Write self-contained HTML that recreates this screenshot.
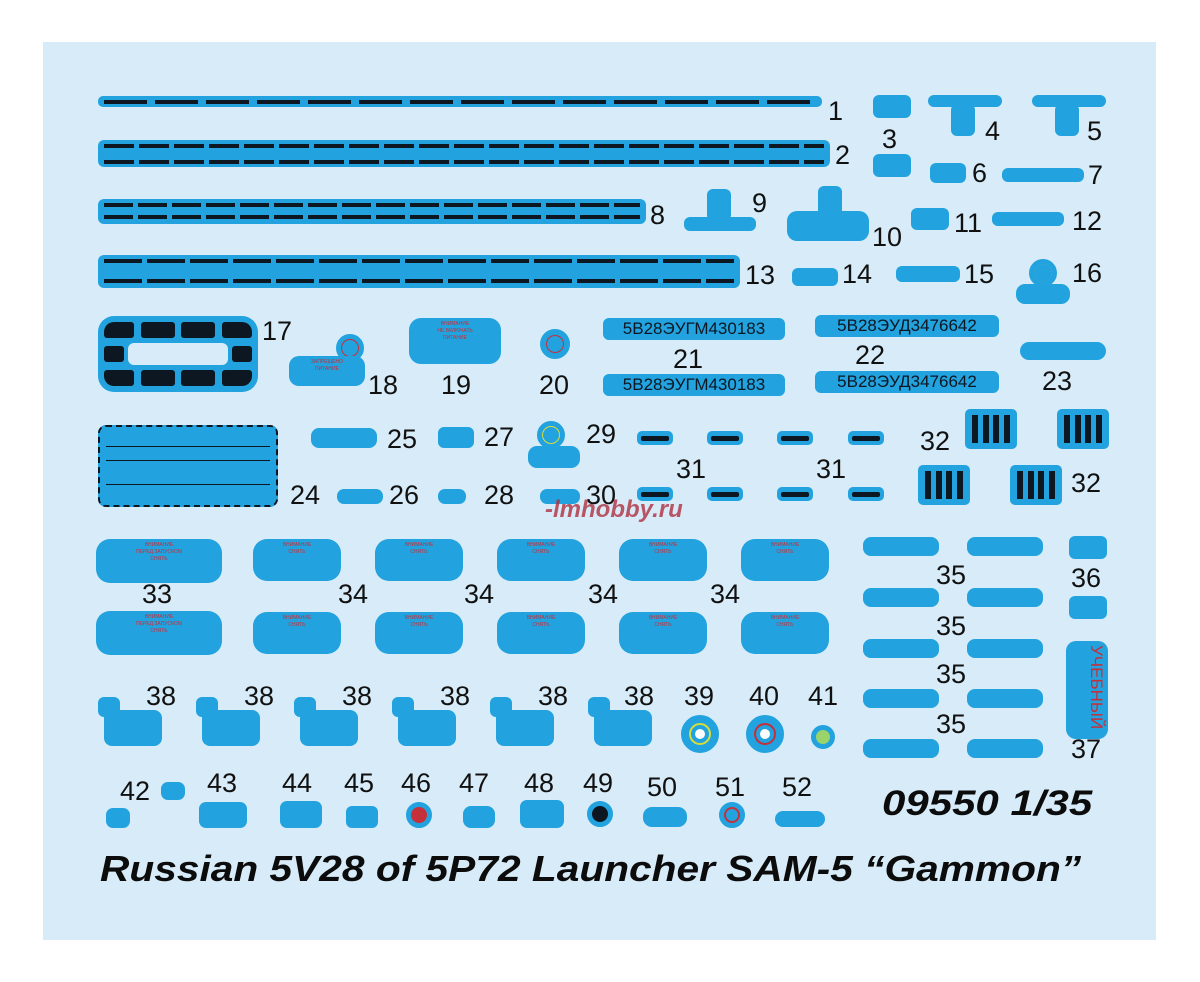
<!DOCTYPE html>
<html><head><meta charset="utf-8"><style>
body{margin:0;width:1200px;height:982px;background:#fff;position:relative;overflow:hidden;font-family:"Liberation Sans",sans-serif}
#bg{position:absolute;left:43px;top:42px;width:1113px;height:898px;background:#d7ecf8}
.d{position:absolute;background:#22a2de;border-radius:6px;box-sizing:border-box}
.n{position:absolute;font-size:27px;color:#111;line-height:1}
.dash{position:absolute;height:4px;background:repeating-linear-gradient(90deg,#0c1722 0 43px,transparent 43px 51px)}
.t{font-size:5px;color:#c5303a;text-align:center;line-height:7px;padding-top:3px;font-family:"Liberation Sans","Noto Sans CJK SC",sans-serif}
.c{position:absolute;border-radius:50%;background:#22a2de;box-sizing:border-box}
.g{position:absolute;background:#22a2de;border-radius:5px;box-sizing:border-box;padding:6px 7px;display:flex;justify-content:space-between}
.g i{display:block;width:6px;height:100%;background:#0c1722}
.blk{position:absolute;background:#0c1722;border-radius:3px}
.sm{position:absolute;height:14px;width:36px;background:#22a2de;border-radius:5px;box-sizing:border-box;padding:5px 4px}
.sm:after{content:"";display:block;height:5px;background:#0c1722;border-radius:2px}
</style></head><body>
<div id="bg"></div>
<div class="d" style="left:98px;top:96px;width:724px;height:11px;border-radius:5px"></div>
<div class="dash" style="left:104px;top:100px;width:712px"></div>
<div class="n" style="left:828px;top:98px">1</div>
<div class="d" style="left:98px;top:140px;width:732px;height:27px"></div>
<div class="dash" style="left:104px;top:144px;width:720px;background:repeating-linear-gradient(90deg,#0c1722 0 30px,transparent 30px 35px)"></div>
<div class="dash" style="left:104px;top:160px;width:720px;background:repeating-linear-gradient(90deg,#0c1722 0 30px,transparent 30px 35px)"></div>
<div class="n" style="left:835px;top:142px">2</div>
<div class="d" style="left:98px;top:199px;width:548px;height:25px"></div>
<div class="dash" style="left:104px;top:203px;width:536px;background:repeating-linear-gradient(90deg,#0c1722 0 29px,transparent 29px 34px)"></div>
<div class="dash" style="left:104px;top:215px;width:536px;background:repeating-linear-gradient(90deg,#0c1722 0 29px,transparent 29px 34px)"></div>
<div class="n" style="left:650px;top:202px">8</div>
<div class="d" style="left:98px;top:255px;width:642px;height:33px"></div>
<div class="dash" style="left:104px;top:259px;width:630px;background:repeating-linear-gradient(90deg,#0c1722 0 38px,transparent 38px 43px)"></div>
<div class="dash" style="left:104px;top:279px;width:630px;background:repeating-linear-gradient(90deg,#0c1722 0 38px,transparent 38px 43px)"></div>
<div class="n" style="left:745px;top:262px">13</div>
<div class="d" style="left:873px;top:95px;width:38px;height:23px"></div>
<div class="d" style="left:873px;top:154px;width:38px;height:23px"></div>
<div class="n" style="left:882px;top:126px">3</div>
<div class="d" style="left:928px;top:95px;width:74px;height:12px"></div>
<div class="d" style="left:951px;top:104px;width:24px;height:32px"></div>
<div class="n" style="left:985px;top:118px">4</div>
<div class="d" style="left:1032px;top:95px;width:74px;height:12px"></div>
<div class="d" style="left:1055px;top:104px;width:24px;height:32px"></div>
<div class="n" style="left:1087px;top:118px">5</div>
<div class="d" style="left:930px;top:163px;width:36px;height:20px"></div>
<div class="n" style="left:972px;top:160px">6</div>
<div class="d" style="left:1002px;top:168px;width:82px;height:14px"></div>
<div class="n" style="left:1088px;top:162px">7</div>
<div class="d" style="left:707px;top:189px;width:24px;height:32px"></div>
<div class="d" style="left:684px;top:217px;width:72px;height:14px"></div>
<div class="n" style="left:752px;top:190px">9</div>
<div class="d" style="left:818px;top:186px;width:24px;height:30px"></div>
<div class="d" style="left:787px;top:211px;width:82px;height:30px;border-radius:10px"></div>
<div class="n" style="left:872px;top:224px">10</div>
<div class="d" style="left:911px;top:208px;width:38px;height:22px"></div>
<div class="n" style="left:954px;top:210px">11</div>
<div class="d" style="left:992px;top:212px;width:72px;height:14px"></div>
<div class="n" style="left:1072px;top:208px">12</div>
<div class="d" style="left:792px;top:268px;width:46px;height:18px"></div>
<div class="n" style="left:842px;top:261px">14</div>
<div class="d" style="left:896px;top:266px;width:64px;height:16px"></div>
<div class="n" style="left:964px;top:261px">15</div>
<div class="c" style="left:1029px;top:259px;width:28px;height:28px;border:5px solid #22a2de;background:#9ad36a"></div>
<div class="c" style="left:1034px;top:264px;width:18px;height:18px"></div>
<div class="d" style="left:1016px;top:284px;width:54px;height:20px;border-radius:9px"></div>
<div class="n" style="left:1072px;top:260px">16</div>
<div class="d" style="left:98px;top:316px;width:160px;height:76px;border-radius:16px"></div>
<div class="blk" style="left:104px;top:322px;width:30px;height:16px;border-radius:10px 3px 3px 3px"></div>
<div class="blk" style="left:141px;top:322px;width:34px;height:16px"></div>
<div class="blk" style="left:181px;top:322px;width:34px;height:16px"></div>
<div class="blk" style="left:222px;top:322px;width:30px;height:16px;border-radius:3px 10px 3px 3px"></div>
<div class="blk" style="left:104px;top:346px;width:20px;height:16px"></div>
<div class="blk" style="left:232px;top:346px;width:20px;height:16px"></div>
<div class="blk" style="left:104px;top:370px;width:30px;height:16px;border-radius:3px 3px 3px 10px"></div>
<div class="blk" style="left:141px;top:370px;width:34px;height:16px"></div>
<div class="blk" style="left:181px;top:370px;width:34px;height:16px"></div>
<div class="blk" style="left:222px;top:370px;width:30px;height:16px;border-radius:3px 3px 10px 3px"></div>
<div style="position:absolute;left:128px;top:343px;width:100px;height:22px;background:#d7ecf8;border-radius:6px"></div>
<div class="n" style="left:262px;top:318px">17</div>
<div class="c" style="left:336px;top:334px;width:28px;height:28px;border:5px solid #22a2de;background:#c5303a"></div>
<div class="c" style="left:342px;top:340px;width:16px;height:16px"></div>
<div class="d t" style="left:289px;top:356px;width:76px;height:30px;border-radius:10px">ЗАПРЕЩЕНО<br>ПИТАНИЕ</div>
<div class="n" style="left:368px;top:372px">18</div>
<div class="d t" style="left:409px;top:318px;width:92px;height:46px;border-radius:12px">ВНИМАНИЕ<br>НЕ ВКЛЮЧАТЬ<br>ПИТАНИЕ</div>
<div class="n" style="left:441px;top:372px">19</div>
<div class="c" style="left:540px;top:329px;width:30px;height:30px;border:6px solid #22a2de;background:#c5303a"></div>
<div class="c" style="left:547px;top:336px;width:16px;height:16px"></div>
<div class="n" style="left:539px;top:372px">20</div>
<div class="d" style="left:603px;top:318px;width:182px;height:22px;font-size:17px;text-align:center;line-height:22px;color:#0c1722">5В28ЭУГМ430183</div>
<div class="d" style="left:603px;top:374px;width:182px;height:22px;font-size:17px;text-align:center;line-height:22px;color:#0c1722">5В28ЭУГМ430183</div>
<div class="n" style="left:673px;top:346px">21</div>
<div class="d" style="left:815px;top:315px;width:184px;height:22px;font-size:17px;text-align:center;line-height:22px;color:#0c1722">5В28ЭУД3476642</div>
<div class="d" style="left:815px;top:371px;width:184px;height:22px;font-size:17px;text-align:center;line-height:22px;color:#0c1722">5В28ЭУД3476642</div>
<div class="n" style="left:855px;top:342px">22</div>
<div class="d" style="left:1020px;top:342px;width:86px;height:18px;border-radius:9px"></div>
<div class="n" style="left:1042px;top:368px">23</div>
<div class="d" style="left:98px;top:425px;width:180px;height:82px;border-radius:8px;border:2px dashed #0c1722;outline:4px solid #22a2de;outline-offset:-6px"></div>
<div style="position:absolute;left:106px;top:446px;width:164px;height:1px;background:#0c1722"></div>
<div style="position:absolute;left:106px;top:460px;width:164px;height:1px;background:#0c1722"></div>
<div style="position:absolute;left:106px;top:484px;width:164px;height:1px;background:#0c1722"></div>
<div class="n" style="left:290px;top:482px">24</div>
<div class="d" style="left:311px;top:428px;width:66px;height:20px;border-radius:8px"></div>
<div class="n" style="left:387px;top:426px">25</div>
<div class="d" style="left:337px;top:489px;width:46px;height:15px;border-radius:7px"></div>
<div class="n" style="left:389px;top:482px">26</div>
<div class="d" style="left:438px;top:427px;width:36px;height:21px"></div>
<div class="n" style="left:484px;top:424px">27</div>
<div class="d" style="left:438px;top:489px;width:28px;height:15px;border-radius:7px"></div>
<div class="n" style="left:484px;top:482px">28</div>
<div class="c" style="left:537px;top:421px;width:28px;height:28px;border:5px solid #22a2de;background:#d6de3a"></div>
<div class="c" style="left:543px;top:427px;width:16px;height:16px"></div>
<div class="d" style="left:528px;top:446px;width:52px;height:22px;border-radius:9px"></div>
<div class="n" style="left:586px;top:421px">29</div>
<div class="d" style="left:540px;top:489px;width:40px;height:15px;border-radius:7px"></div>
<div class="n" style="left:586px;top:482px">30</div>
<div class="sm" style="left:637px;top:431px"></div><div class="sm" style="left:707px;top:431px"></div><div class="sm" style="left:777px;top:431px"></div><div class="sm" style="left:848px;top:431px"></div>
<div class="sm" style="left:637px;top:487px"></div><div class="sm" style="left:707px;top:487px"></div><div class="sm" style="left:777px;top:487px"></div><div class="sm" style="left:848px;top:487px"></div>
<div class="n" style="left:676px;top:456px">31</div>
<div class="n" style="left:816px;top:456px">31</div>
<div class="g" style="left:965px;top:409px;width:52px;height:40px"><i></i><i></i><i></i><i></i></div>
<div class="g" style="left:1057px;top:409px;width:52px;height:40px"><i></i><i></i><i></i><i></i></div>
<div class="g" style="left:918px;top:465px;width:52px;height:40px"><i></i><i></i><i></i><i></i></div>
<div class="g" style="left:1010px;top:465px;width:52px;height:40px"><i></i><i></i><i></i><i></i></div>
<div class="n" style="left:920px;top:428px">32</div>
<div class="n" style="left:1071px;top:470px">32</div>
<div class="d t" style="left:96px;top:539px;width:126px;height:44px;border-radius:14px">ВНИМАНИЕ<br>ПЕРЕД ЗАПУСКОМ<br>СНЯТЬ</div>
<div class="d t" style="left:96px;top:611px;width:126px;height:44px;border-radius:14px">ВНИМАНИЕ<br>ПЕРЕД ЗАПУСКОМ<br>СНЯТЬ</div>
<div class="n" style="left:142px;top:581px">33</div>
<div class="d t" style="left:253px;top:539px;width:88px;height:42px;border-radius:14px">ВНИМАНИЕ<br>СНЯТЬ</div>
<div class="d t" style="left:375px;top:539px;width:88px;height:42px;border-radius:14px">ВНИМАНИЕ<br>СНЯТЬ</div>
<div class="d t" style="left:497px;top:539px;width:88px;height:42px;border-radius:14px">ВНИМАНИЕ<br>СНЯТЬ</div>
<div class="d t" style="left:619px;top:539px;width:88px;height:42px;border-radius:14px">ВНИМАНИЕ<br>СНЯТЬ</div>
<div class="d t" style="left:741px;top:539px;width:88px;height:42px;border-radius:14px">ВНИМАНИЕ<br>СНЯТЬ</div>
<div class="d t" style="left:253px;top:612px;width:88px;height:42px;border-radius:14px">ВНИМАНИЕ<br>СНЯТЬ</div>
<div class="d t" style="left:375px;top:612px;width:88px;height:42px;border-radius:14px">ВНИМАНИЕ<br>СНЯТЬ</div>
<div class="d t" style="left:497px;top:612px;width:88px;height:42px;border-radius:14px">ВНИМАНИЕ<br>СНЯТЬ</div>
<div class="d t" style="left:619px;top:612px;width:88px;height:42px;border-radius:14px">ВНИМАНИЕ<br>СНЯТЬ</div>
<div class="d t" style="left:741px;top:612px;width:88px;height:42px;border-radius:14px">ВНИМАНИЕ<br>СНЯТЬ</div>
<div class="n" style="left:338px;top:581px">34</div>
<div class="n" style="left:464px;top:581px">34</div>
<div class="n" style="left:588px;top:581px">34</div>
<div class="n" style="left:710px;top:581px">34</div>
<div class="d" style="left:863px;top:537px;width:76px;height:19px;border-radius:8px"></div><div class="d" style="left:967px;top:537px;width:76px;height:19px;border-radius:8px"></div>
<div class="d" style="left:863px;top:588px;width:76px;height:19px;border-radius:8px"></div><div class="d" style="left:967px;top:588px;width:76px;height:19px;border-radius:8px"></div>
<div class="d" style="left:863px;top:639px;width:76px;height:19px;border-radius:8px"></div><div class="d" style="left:967px;top:639px;width:76px;height:19px;border-radius:8px"></div>
<div class="d" style="left:863px;top:689px;width:76px;height:19px;border-radius:8px"></div><div class="d" style="left:967px;top:689px;width:76px;height:19px;border-radius:8px"></div>
<div class="d" style="left:863px;top:739px;width:76px;height:19px;border-radius:8px"></div><div class="d" style="left:967px;top:739px;width:76px;height:19px;border-radius:8px"></div>
<div class="n" style="left:936px;top:562px">35</div><div class="n" style="left:936px;top:613px">35</div><div class="n" style="left:936px;top:661px">35</div><div class="n" style="left:936px;top:711px">35</div>
<div class="d" style="left:1069px;top:536px;width:38px;height:23px"></div>
<div class="d" style="left:1069px;top:596px;width:38px;height:23px"></div>
<div class="n" style="left:1071px;top:565px">36</div>
<div class="d" style="left:1066px;top:641px;width:42px;height:98px;border-radius:10px;overflow:hidden"><div style="position:absolute;left:2px;top:4px;width:38px;writing-mode:vertical-rl;color:#c5303a;font-size:17px;line-height:20px;text-align:left">УЧЕБНЫЙ</div></div>
<div class="n" style="left:1071px;top:736px">37</div>
<div class="d" style="left:98px;top:697px;width:22px;height:20px"></div><div class="d" style="left:104px;top:710px;width:58px;height:36px;border-radius:8px"></div>
<div class="d" style="left:196px;top:697px;width:22px;height:20px"></div><div class="d" style="left:202px;top:710px;width:58px;height:36px;border-radius:8px"></div>
<div class="d" style="left:294px;top:697px;width:22px;height:20px"></div><div class="d" style="left:300px;top:710px;width:58px;height:36px;border-radius:8px"></div>
<div class="d" style="left:392px;top:697px;width:22px;height:20px"></div><div class="d" style="left:398px;top:710px;width:58px;height:36px;border-radius:8px"></div>
<div class="d" style="left:490px;top:697px;width:22px;height:20px"></div><div class="d" style="left:496px;top:710px;width:58px;height:36px;border-radius:8px"></div>
<div class="d" style="left:588px;top:697px;width:22px;height:20px"></div><div class="d" style="left:594px;top:710px;width:58px;height:36px;border-radius:8px"></div>
<div class="n" style="left:146px;top:683px">38</div><div class="n" style="left:244px;top:683px">38</div><div class="n" style="left:342px;top:683px">38</div><div class="n" style="left:440px;top:683px">38</div><div class="n" style="left:538px;top:683px">38</div><div class="n" style="left:624px;top:683px">38</div>
<div class="c" style="left:681px;top:715px;width:38px;height:38px;border:8px solid #22a2de;background:#d6de3a"></div>
<div class="c" style="left:691px;top:725px;width:18px;height:18px;border:4px solid #22a2de;background:#fff"></div>
<div class="n" style="left:684px;top:683px">39</div>
<div class="c" style="left:746px;top:715px;width:38px;height:38px;border:8px solid #22a2de;background:#c5303a"></div>
<div class="c" style="left:756px;top:725px;width:18px;height:18px;border:4px solid #22a2de;background:#fff"></div>
<div class="n" style="left:749px;top:683px">40</div>
<div class="c" style="left:811px;top:725px;width:24px;height:24px;border:5px solid #22a2de;background:#9ad36a"></div>
<div class="n" style="left:808px;top:683px">41</div>
<div class="d" style="left:161px;top:782px;width:24px;height:18px;border-radius:7px"></div>
<div class="n" style="left:120px;top:778px">42</div>
<div class="d" style="left:106px;top:808px;width:24px;height:20px;border-radius:7px"></div>
<div class="d" style="left:199px;top:802px;width:48px;height:26px;border-radius:7px"></div>
<div class="n" style="left:207px;top:770px">43</div>
<div class="d" style="left:280px;top:801px;width:42px;height:27px;border-radius:7px"></div>
<div class="n" style="left:282px;top:770px">44</div>
<div class="d" style="left:346px;top:806px;width:32px;height:22px"></div>
<div class="n" style="left:344px;top:770px">45</div>
<div class="c" style="left:406px;top:802px;width:26px;height:26px;border:5px solid #22a2de;background:#c5303a"></div>
<div class="n" style="left:401px;top:770px">46</div>
<div class="d" style="left:463px;top:806px;width:32px;height:22px;border-radius:8px"></div>
<div class="n" style="left:459px;top:770px">47</div>
<div class="d" style="left:520px;top:800px;width:44px;height:28px;border-radius:7px"></div>
<div class="n" style="left:524px;top:770px">48</div>
<div class="c" style="left:587px;top:801px;width:26px;height:26px;border:5px solid #22a2de;background:#0c1722"></div>
<div class="n" style="left:583px;top:770px">49</div>
<div class="d" style="left:643px;top:807px;width:44px;height:20px;border-radius:9px"></div>
<div class="n" style="left:647px;top:774px">50</div>
<div class="c" style="left:719px;top:802px;width:26px;height:26px;border:5px solid #22a2de;background:#c5303a"></div>
<div class="c" style="left:726px;top:809px;width:12px;height:12px"></div>
<div class="n" style="left:715px;top:774px">51</div>
<div class="d" style="left:775px;top:811px;width:50px;height:16px;border-radius:8px"></div>
<div class="n" style="left:782px;top:774px">52</div>
<div style="position:absolute;left:882px;top:784px;font-size:35px;font-weight:bold;font-style:italic;color:#0c0c0c;white-space:nowrap;transform:scaleX(1.2);transform-origin:0 0">09550 1/35</div>
<div style="position:absolute;left:100px;top:848px;font-size:36px;font-weight:bold;font-style:italic;color:#0c0c0c;white-space:nowrap;transform:scaleX(1.13);transform-origin:0 0">Russian 5V28 of 5P72 Launcher SAM-5 “Gammon”</div>
<div style="position:absolute;left:545px;top:496px;font-size:24px;font-style:italic;font-weight:bold;color:#b03040;opacity:0.8">-lmhobby.ru</div>
</body></html>
